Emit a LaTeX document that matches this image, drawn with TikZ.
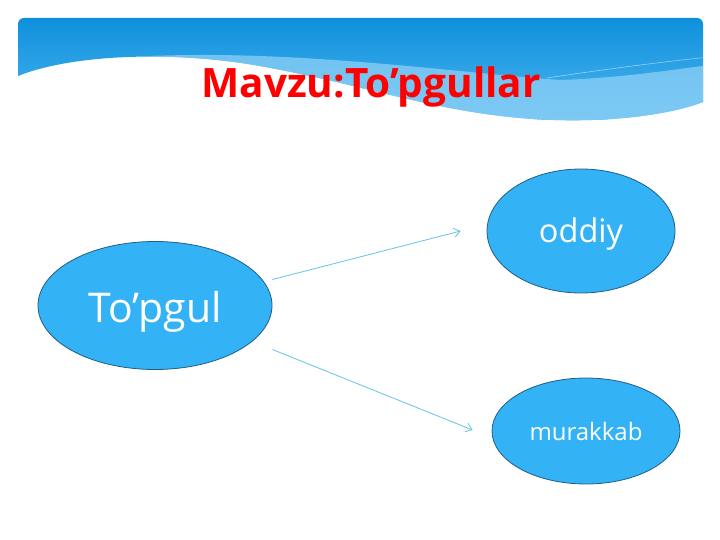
\documentclass[tikz,border=0pt]{standalone}
\usepackage{fontspec}
\setmainfont{Open Sans}
\usetikzlibrary{arrows.meta,calc,shapes.geometric}
\definecolor{ellfill}{HTML}{33B2F5}
\definecolor{elldraw}{HTML}{1F5F8B}
\definecolor{bantop}{HTML}{0A8DDB}
\definecolor{banbot}{HTML}{4DB6F0}
\definecolor{banlight}{HTML}{8DD0F6}
\definecolor{arrowcol}{HTML}{66C4E6}
\tikzset{
  bubble/.style={ellipse, draw=elldraw, line width=0.8pt, fill=ellfill, text=white, inner sep=0pt},
  conn/.style={draw=arrowcol, line width=0.8pt, -{Straight Barb[length=6pt,width=9pt]}},
}
\begin{document}
\begin{tikzpicture}[x=1pt,y=-1pt]
\useasboundingbox (0,0) rectangle (720,540);
\fill[white] (0,0) rectangle (720,540);
% banner
\begin{scope}
  \clip[rounded corners=6pt] (18,18) rectangle (703,220);
  \clip (10,76) -- (18,76) .. controls (70,55) and (170,50) .. (260,66)
     .. controls (360,84) and (430,110) .. (520,118)
     .. controls (600,125) and (670,115) .. (703,102) -- (710,102) -- (710,10) -- (10,10) -- cycle;
  \shade[top color=bantop, bottom color=banbot] (10,10) rectangle (710,120);
  \fill[banbot] (10,119) rectangle (710,140);
  \fill[banlight, opacity=0.75] (150,56) .. controls (300,50) and (450,72) .. (560,80)
     .. controls (620,78) and (670,70) .. (703,66) -- (710,66) -- (710,140) -- (150,140) -- cycle;
  \draw[white, opacity=0.5, line width=0.6pt] (547,78) .. controls (600,70) and (660,62) .. (710,57);
\end{scope}
\node[text=red, font=\bfseries\fontsize{40.5}{46}\selectfont, anchor=base, inner sep=0pt] (title) at (371,98) {Mavzu:To’pgullar};
% ellipses
\node[bubble, minimum width=234pt, minimum height=128pt, font=\fontsize{41}{46}\selectfont] (tp) at (155,305.5) {\raisebox{-6pt}[\height][\depth]{To’pgul}};
\node[bubble, minimum width=188pt, minimum height=124pt, font=\fontsize{32.5}{36}\selectfont] (od) at (581,231) {\raisebox{-3.5pt}[\height][\depth]{oddiy}};
\node[bubble, minimum width=188pt, minimum height=106pt, font=\fontsize{24}{28}\selectfont] (mk) at (586,431) {murakkab};
% connectors
\draw[conn] ($(tp.east)+(0,-26)$) -- ($(od.west)+(-26,0)$);
\draw[conn] ($(tp.east)+(0,44)$) -- ($(mk.west)+(-19,-1)$);
\end{tikzpicture}
\end{document}
